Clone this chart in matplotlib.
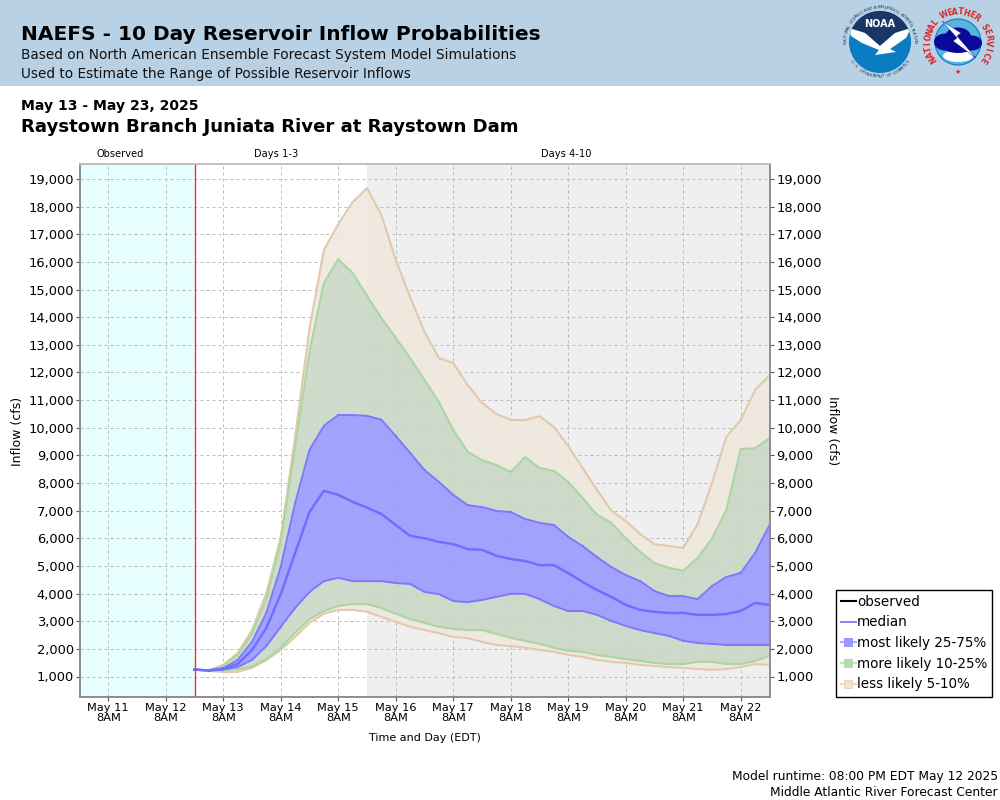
import numpy as np
import pandas as pd
import matplotlib
matplotlib.use("Agg")
import matplotlib.pyplot as plt
import matplotlib.dates as mdates
from matplotlib.lines import Line2D
from matplotlib.patches import Rectangle, Circle, Ellipse, Polygon

start_time = "2025-05-12 20:00"
step_hours = 6

tan_upper = [1250,1220,1420,1850,2680,4020,6050,9660,13600,16430,17370,18160,18670,17700,16070,14730,13470,12520,12340,11550,10900,10500,10280,10280,10420,10030,9340,8540,7750,7000,6630,6150,5790,5720,5650,6510,8000,9670,10280,11370,11900]
green_upper = [1250,1220,1400,1780,2550,3800,5860,9300,12750,15240,16100,15600,14770,13970,13250,12520,11730,10930,9920,9130,8830,8650,8400,8940,8540,8440,8040,7460,6850,6560,6000,5510,5100,4930,4830,5290,6000,7020,9230,9260,9620]
blue_upper = [1250,1220,1300,1600,2250,3300,4970,7270,9200,10070,10460,10460,10430,10290,9700,9090,8470,8040,7570,7200,7130,6990,6950,6700,6560,6480,6050,5720,5320,4960,4670,4450,4090,3910,3910,3800,4270,4600,4750,5470,6480]
median = [1250,1220,1280,1450,1960,2760,3980,5470,6950,7720,7570,7320,7110,6880,6480,6090,6000,5870,5790,5610,5580,5370,5250,5180,5030,5030,4740,4420,4130,3880,3590,3410,3340,3300,3300,3230,3230,3260,3370,3660,3590]
blue_lower = [1250,1210,1250,1340,1600,2100,2800,3480,4060,4450,4570,4450,4450,4450,4380,4350,4060,3980,3730,3690,3770,3880,3990,3990,3800,3550,3370,3370,3230,3010,2830,2680,2570,2470,2290,2210,2180,2140,2140,2140,2140]
green_lower = [1250,1200,1230,1260,1350,1630,2040,2580,3080,3370,3550,3620,3620,3480,3270,3080,2940,2800,2720,2680,2680,2540,2400,2290,2180,2040,1930,1890,1780,1710,1630,1560,1490,1450,1450,1530,1530,1450,1450,1560,1750]
tan_lower = [1250,1200,1160,1170,1310,1600,1960,2430,2940,3270,3410,3410,3340,3160,2980,2800,2680,2570,2430,2390,2250,2140,2100,2040,1960,1890,1780,1710,1600,1530,1490,1420,1380,1340,1310,1270,1240,1270,1340,1450,1420]

tick_days = ["2025-05-11","2025-05-12","2025-05-13","2025-05-14","2025-05-15","2025-05-16",
             "2025-05-17","2025-05-18","2025-05-19","2025-05-20","2025-05-21","2025-05-22"]
y_ticks = list(range(1000, 20000, 1000))
legend_labels = ["observed","median","most likely 25-75%","more likely 10-25%","less likely 5-10%"]

W, H = 1000, 800
def fx(p): return p / W
def fy(p): return 1 - p / H

fig = plt.figure(figsize=(10, 8), dpi=100, facecolor="white")
plt.rcParams["font.family"] = "DejaVu Sans"

# header band
fig.add_artist(Rectangle((0, fy(86)), 1, 86 / H, transform=fig.transFigure, fc="#B9D1E4", ec="none", zorder=0))
fig.text(fx(21), fy(39.5), "NAEFS - 10 Day Reservoir Inflow Probabilities", fontsize=14.5, fontweight="bold", color="black")
fig.text(fx(21), fy(59), "Based on North American Ensemble Forecast System Model Simulations", fontsize=9.8, color="#111111")
fig.text(fx(21), fy(78), "Used to Estimate the Range of Possible Reservoir Inflows", fontsize=9.85, color="#111111")
fig.text(fx(21), fy(110), "May 13 - May 23, 2025", fontsize=10.1, fontweight="bold")
fig.text(fx(21), fy(132), "Raystown Branch Juniata River at Raystown Dam", fontsize=13.05, fontweight="bold")

# logos
lg = fig.add_axes([0, fy(86), 1, 86 / H], facecolor="none")
lg.set_xlim(0, W); lg.set_ylim(86, 0); lg.axis("off")
def ring_text(s, cx, cy, r, a0, a1, flip=False, **kw):
    for ch, a in zip(s, np.linspace(a0, a1, len(s))):
        lg.text(cx + r*np.cos(np.radians(a)), cy - r*np.sin(np.radians(a)), ch, ha="center", va="center",
                rotation=a - 90 + (180 if flip else 0), **kw)
disk = Circle((880, 42), 31, fc="#0A7CC2", ec="none")
lg.add_patch(disk)
navy = Polygon([(849,11),(911,11),(911,28),(895,33),(880,46),(865,33),(849,28)], fc="#1C3567", ec="none")
lg.add_patch(navy); navy.set_clip_path(disk)
wing = Polygon([(849,28),(865,33),(880,46),(895,33),(911,28),(906,38),(890,49),(896,52),(875,55),(879,50),(862,43),(851,36)], fc="white", ec="none")
lg.add_patch(wing); wing.set_clip_path(disk)
lg.text(880, 24, "NOAA", ha="center", va="center", color="white", fontsize=7, fontweight="bold")
ring_text("NATIONAL OCEANIC AND ATMOSPHERIC ADMINISTRATION", 880, 42, 34.5, 180, 0, color="#1C3567", fontsize=2.9)
ring_text("U.S. DEPARTMENT OF COMMERCE", 880, 42, 34.5, 215, 325, flip=True, color="#1C3567", fontsize=2.9)

inner = Circle((958, 42), 23, fc="#55B4E0", ec="#0A7CC2", lw=0.8)
lg.add_patch(inner)
lg.add_patch(Ellipse((958, 56), 30, 12, fc="white", ec="none"))
for c in [(945,42,22,17),(958,37,26,19),(972,43,20,15),(958,46,32,14)]:
    lg.add_patch(Ellipse(c[:2], c[2], c[3], fc="#0A0A9A", ec="none"))
lg.add_patch(Polygon([(942,21),(961,33),(957,36),(976,58),(953,41),(957,38)], fc="white", ec="#0A0A9A", lw=0.3))
ring_text("NATIONAL WEATHER SERVICE", 958, 42, 30, 215, -35, color="#D8262C", fontsize=5.6, fontweight="bold")
lg.text(958, 72, "★", ha="center", va="center", color="#D8262C", fontsize=5)

# chart axes
L, R, T, B = 79.5, 770, 164, 697
ax = fig.add_axes([fx(L), fy(B), (R - L) / W, (B - T) / H], zorder=2)
x = pd.date_range(start_time, periods=len(median), freq=f"{step_hours}h")
xn = mdates.date2num(x)
t0 = xn[0]; d = 1 / 57.5
ax.set_xlim(t0 - (194.5 - L) * d, t0 + (R - 194.5) * d)
y_per_px = 1000 / 27.64
ax.set_ylim(1000 - (B - 676.5) * y_per_px, 1000 + (676.5 - T) * y_per_px)

ax.axvspan(ax.get_xlim()[0], t0, fc="#E8FFFF", ec="none", zorder=0)
gray_start = t0 + 3.0
ax.axvspan(gray_start, ax.get_xlim()[1], fc="#EFEFEF", ec="none", zorder=0)

ticks = mdates.date2num(pd.to_datetime(tick_days) + pd.Timedelta(hours=8))
ax.set_xticks(ticks)
ax.set_xticklabels([pd.Timestamp(s).strftime("%b %d") + "\n8AM" for s in tick_days], fontsize=8.2, linespacing=1.05)
ax.set_yticks(y_ticks)
ax.set_yticklabels([f"{v:,}" for v in y_ticks], fontsize=9.4)
ax.grid(True, color="#BDBDBD", lw=0.72, linestyle=(0, (3, 3)), zorder=1)
ax.set_axisbelow(True)
ax.tick_params(axis="x", length=3, width=0.8, color="#555555", pad=1)
ax.tick_params(axis="y", length=3, width=0.8, color="#555555", pad=1)
ax.set_xlabel("Time and Day (EDT)", fontsize=8, labelpad=7)

rax = ax.twinx()
rax.set_ylim(ax.get_ylim())
rax.set_yticks(y_ticks)
rax.set_yticklabels([f"{v:,}" for v in y_ticks], fontsize=9.4)
rax.tick_params(axis="y", length=3, width=0.8, color="#555555", pad=1.5)
fig.text(fx(17), fy(431), "Inflow (cfs)", rotation=90, ha="center", va="center", fontsize=9)
fig.text(fx(832), fy(431), "Inflow (cfs)", rotation=270, ha="center", va="center", fontsize=9)
for a in (ax, rax):
    a.spines["top"].set_color("#BDBDBD"); a.spines["left"].set_color("#8A8A8A")
    a.spines["bottom"].set_color("#8A8A8A"); a.spines["right"].set_color("#8A8A8A")
    for s in a.spines.values():
        s.set_linewidth(1.1)

TAN_F, GREEN_F, BLUE_F = "#F0E8DD", "#CAD8C4", "#9E9EFE"
# bands
ax.fill_between(xn, green_upper, tan_upper, color=TAN_F, alpha=0.88, lw=0, zorder=2)
ax.fill_between(xn, tan_lower, green_lower, color=TAN_F, alpha=0.88, lw=0, zorder=2)
ax.fill_between(xn, blue_upper, green_upper, color=GREEN_F, alpha=0.88, lw=0, zorder=2)
ax.fill_between(xn, green_lower, blue_lower, color=GREEN_F, alpha=0.88, lw=0, zorder=2)
ax.fill_between(xn, blue_lower, blue_upper, color=BLUE_F, alpha=0.95, lw=0, zorder=2)
# band edges
ax.plot(xn, tan_upper, color="#E2C9AE", lw=1.5, zorder=3)
ax.plot(xn, tan_lower, color="#E2C9AE", lw=1.5, zorder=3)
ax.plot(xn, green_upper, color="#AAD6A0", lw=1.5, zorder=3.1)
ax.plot(xn, green_lower, color="#AAD6A0", lw=1.5, zorder=3.1)
ax.plot(xn, blue_upper, color="#7A7AFF", lw=1.4, marker="s", ms=1.6, mew=0, zorder=3.2)
ax.plot(xn, blue_lower, color="#7A7AFF", lw=1.4, marker="s", ms=1.6, mew=0, zorder=3.2)
ax.plot(xn, median, color="#6E6EFF", lw=1.8, zorder=3.3)
ax.axvline(t0, color="#FF2A2A", lw=1.0, zorder=4)

# period labels
for xp, s in [(120, "Observed"), (276.5, "Days 1-3"), (566.5, "Days 4-10")]:
    fig.text(fx(xp), fy(157), s, ha="center", fontsize=7.1)

# legend
handles = [
    Line2D([], [], color="black", lw=1.5),
    Line2D([], [], color="#8A8AFF", lw=1.5),
    Line2D([], [], color="#B0B0FF", lw=1.5, marker="s", ms=5.5, mfc="#9C9CFF", mec="#8080FF", mew=0.5),
    Line2D([], [], color="#C6E0C0", lw=1.5, marker="s", ms=5.5, mfc="#B8D8AE", mec="#AAD6A0", mew=0.5),
    Line2D([], [], color="#EBD8C4", lw=1.5, marker="s", ms=5.5, mfc="#F0E4D6", mec="#E2C9AE", mew=0.5),
]
leg = fig.legend(handles, legend_labels, loc="lower left", bbox_to_anchor=(fx(835.5), fy(696.5), 156 / W, 105.5 / H),
                 mode="expand", fontsize=9.75, frameon=True, fancybox=False, edgecolor="black", framealpha=1,
                 borderpad=0.38, labelspacing=0.49, handlelength=1.15, handletextpad=0.05, borderaxespad=0)
leg.get_frame().set_linewidth(1.0)

fig.text(fx(998), fy(780), "Model runtime: 08:00 PM EDT May 12 2025", ha="right", fontsize=8.85)
fig.text(fx(998), fy(796), "Middle Atlantic River Forecast Center", ha="right", fontsize=8.85)

fig.savefig("out.png", dpi=100)
